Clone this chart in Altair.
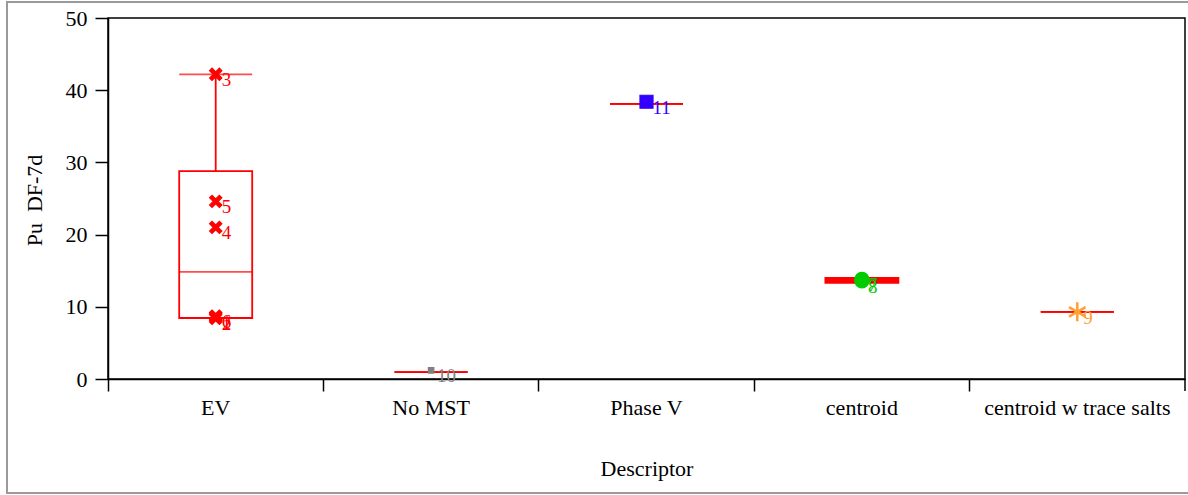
import altair as alt
import pandas as pd

# ---- data ----
categories = ["EV", "No MST", "Phase V", "centroid", "centroid w trace salts"]
box_q1 = [8.45, 0.95, 38.1, 13.3, 9.3]
box_median = [14.85, 0.95, 38.1, 13.65, 9.3]
box_q3 = [28.8, 0.95, 38.1, 14.0, 9.3]
whisker_hi = [42.2, 0.95, 38.1, 14.0, 9.3]

point_ids = ["1", "2", "3", "4", "5", "6", "7", "8", "9", "10", "11"]
point_cat = ["EV", "EV", "EV", "EV", "EV", "EV", "centroid", "centroid",
             "centroid w trace salts", "No MST", "Phase V"]
point_val = [8.6, 8.4, 42.2, 21.0, 24.6, 8.7, 13.8, 13.6, 9.3, 1.2, 38.4]

cat_colors = ["#ff0000", "#808080", "#3300ff", "#00cc00", "#ffa033"]
x_shape = "M-1,-0.6L-0.6,-1L0,-0.4L0.6,-1L1,-0.6L0.4,0L1,0.6L0.6,1L0,0.4L-0.6,1L-1,0.6L-0.4,0Z"
asterisk = "M0,-1L0,1M-0.87,-0.5L0.87,0.5M-0.87,0.5L0.87,-0.5"
cat_shapes = [x_shape, "square", "square", "circle", asterisk]
cat_sizes = [150, 30, 170, 200, 360]

box_df = pd.DataFrame({"cat": categories, "q1": box_q1, "med": box_median,
                       "q3": box_q3, "hi": whisker_hi})
pts_df = pd.DataFrame({"id": point_ids, "cat": point_cat, "val": point_val})

FONT = "Liberation Serif"
RED = "#ff0000"
BW = 73
LW = 1.8

xscale = alt.Scale(domain=categories, paddingInner=0, paddingOuter=0)
x_enc = alt.X("cat:N", scale=xscale, sort=categories, title="Descriptor",
              axis=alt.Axis(bandPosition=0, tickSize=12, labelPadding=6,
                            labelAngle=0, labelBaseline="top", labelLimit=0,
                            titleY=89, titleBaseline="middle"))
yscale = alt.Scale(domain=[0, 50], nice=False, zero=True)
y_title = "Pu\u00a0\u00a0DF-7d"

base_box = alt.Chart(box_df)

box = base_box.mark_bar(width=BW, fill=RED, stroke=RED, strokeWidth=LW).encode(
    x=x_enc,
    y=alt.Y("q1:Q", scale=yscale, title=y_title,
            axis=alt.Axis(values=[0, 10, 20, 30, 40, 50], tickSize=13,
                          labelPadding=8, titleAngle=270, titleX=-74, titleY=182,
                          titleAlign="center", titleBaseline="middle")),
    y2="q3:Q",
    fillOpacity=alt.condition("datum.q3 - datum.q1 < 1.5", alt.value(1), alt.value(0)),
)
median = base_box.mark_tick(size=BW, thickness=LW, color=RED).encode(
    x=alt.X("cat:N", scale=xscale, sort=categories), y=alt.Y("med:Q", scale=yscale))
cap = base_box.mark_tick(size=BW, thickness=LW, color=RED).encode(
    x=alt.X("cat:N", scale=xscale, sort=categories), y=alt.Y("hi:Q", scale=yscale))
whisker = base_box.mark_rule(color=RED, strokeWidth=LW).encode(
    x=alt.X("cat:N", scale=xscale, sort=categories), y=alt.Y("q3:Q", scale=yscale), y2="hi:Q")

color_scale = alt.Scale(domain=categories, range=cat_colors)
points = alt.Chart(pts_df).mark_point(filled=True, opacity=1).encode(
    x=alt.X("cat:N", scale=xscale, sort=categories),
    y=alt.Y("val:Q", scale=yscale),
    color=alt.Color("cat:N", scale=color_scale, legend=None),
    stroke=alt.Stroke("cat:N", scale=color_scale, legend=None),
    shape=alt.Shape("cat:N", scale=alt.Scale(domain=categories, range=cat_shapes), legend=None),
    size=alt.Size("cat:N", scale=alt.Scale(type="ordinal", domain=categories, range=cat_sizes),
                  legend=None),
    strokeWidth=alt.condition("datum.cat == 'centroid w trace salts'", alt.value(2.5), alt.value(1.2)),
)
labels = alt.Chart(pts_df).mark_text(align="left", baseline="middle", dx=6, dy=6,
                                     fontSize=19, font=FONT).encode(
    x=alt.X("cat:N", scale=xscale, sort=categories),
    y=alt.Y("val:Q", scale=yscale),
    text="id:N",
    color=alt.Color("cat:N", scale=color_scale, legend=None),
)

one = pd.DataFrame({"a": [0]})
right_tick = alt.Chart(one).mark_rule(color="black", strokeWidth=1.5).encode(
    x=alt.value(1077), y=alt.value(361), y2=alt.value(373))
frame = alt.Chart(one).mark_rect(fill=None, stroke="#9a9a9a", strokeWidth=2).encode(
    x=alt.value(-101), x2=alt.value(1085), y=alt.value(-16), y2=alt.value(475))

chart = alt.layer(frame, box, whisker, cap, median, points, labels, right_tick).properties(
    width=1077, height=361,
    autosize=alt.AutoSizeParams(type="none"),
    padding={"left": 108, "top": 18, "right": 3, "bottom": 116},
    background="white",
).configure_view(stroke="black", strokeWidth=1.5).configure_axis(
    labelFont=FONT, titleFont=FONT, labelFontSize=22, titleFontSize=22,
    titleFontWeight="normal", labelColor="black", titleColor="black",
    domainColor="black", tickColor="black", domainWidth=1.5, tickWidth=1.5,
    grid=False,
)

chart.save("out.html", embed_options={"renderer": "svg", "actions": False})
